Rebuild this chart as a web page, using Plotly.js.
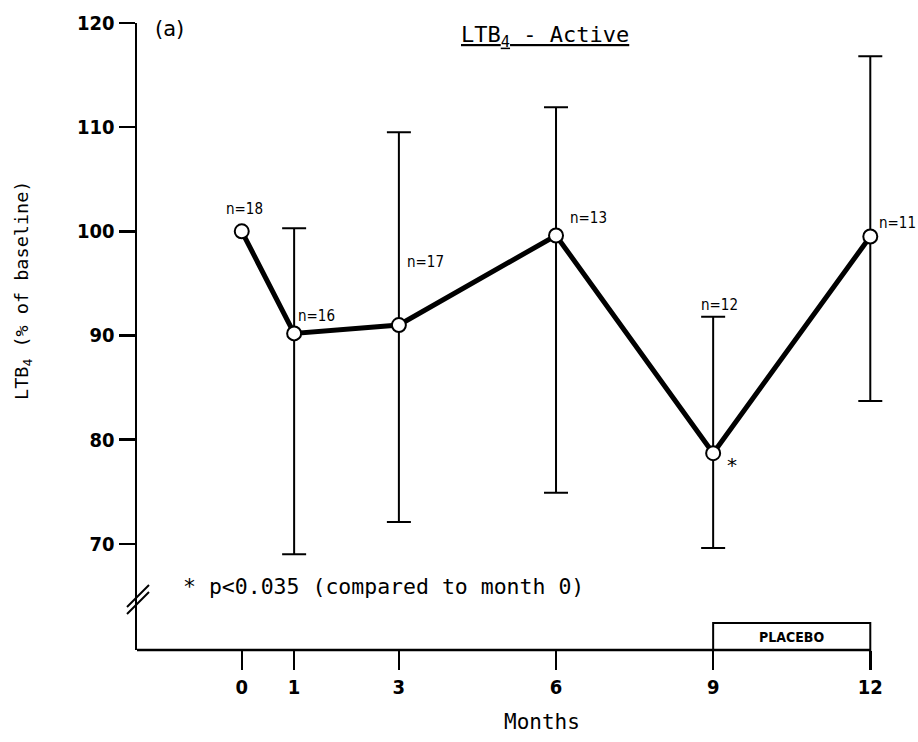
<!DOCTYPE html>
<html>
<head>
<meta charset="utf-8">
<script src="https://cdn.plot.ly/plotly-3.0.1.min.js"></script>
<style>html,body{margin:0;padding:0;background:#fff;}#chart{width:918px;height:742px;}</style>
</head>
<body>
<div id="chart"></div>
<script>
// ---- data ----
const months = [0, 1, 3, 6, 9, 12];
const meanPct = [100, 90.2, 91.0, 99.6, 78.7, 99.5];
const upperPct = [null, 100.3, 109.5, 111.9, 91.8, 116.8];
const lowerPct = [null, 69.0, 72.1, 74.9, 69.6, 83.7];
const nLabels = ['n=18', 'n=16', 'n=17', 'n=13', 'n=12', 'n=11'];
const xTickVals = [0, 1, 3, 6, 9, 12];
const yTickVals = [70, 80, 90, 100, 110, 120];
const significantMonth = 9;
const placeboMonths = [9, 12];

const errPlus = meanPct.map((m, i) => upperPct[i] == null ? NaN : upperPct[i] - m);
const errMinus = meanPct.map((m, i) => lowerPct[i] == null ? NaN : m - lowerPct[i]);

const MONO = '"DejaVu Sans Mono", "Liberation Mono", monospace';
const COND = '"DejaVu Sans Condensed", "DejaVu Sans", sans-serif';

// plot-area geometry (pixels)
const M = {l: 137, r: 32.3, t: 23, b: 92};
const PW = 918 - M.l - M.r, PH = 742 - M.t - M.b;
const px = v => (v - M.l) / PW;          // pixel x -> paper x
const py = v => (742 - M.b - v) / PH;    // pixel y -> paper y

const trace = {
  x: months, y: meanPct, type: 'scatter', mode: 'lines+markers',
  line: {color: '#000', width: 5},
  marker: {symbol: 'circle', size: 14, color: '#fff', line: {color: '#000', width: 2}},
  error_y: {type: 'data', symmetric: false, array: errPlus, arrayminus: errMinus,
            color: '#000', thickness: 2, width: 12},
  cliponaxis: false, showlegend: false, hoverinfo: 'x+y'
};

// offsets of n labels relative to their points (pixels)
const nOffsets = [[3, 22], [22, 17], [27, 63], [32, 17], [6, 148], [27, 14]];
const annotations = months.map((m, i) => ({
  x: m, y: meanPct[i], xref: 'x', yref: 'y', text: nLabels[i], showarrow: false,
  xshift: nOffsets[i][0], yshift: nOffsets[i][1],
  font: {family: COND, size: 15, color: '#000'}
}));

const sigIdx = months.indexOf(significantMonth);
annotations.push({x: months[sigIdx], y: meanPct[sigIdx], xref: 'x', yref: 'y', text: '*',
  showarrow: false, xshift: 19, yshift: -12, font: {family: MONO, size: 20, color: '#000'}});

annotations.push(
  {xref: 'paper', yref: 'paper', x: px(545), y: py(36), text: 'LTB<sub>4</sub> - Active',
   showarrow: false, xanchor: 'center', yanchor: 'middle',
   font: {family: MONO, size: 22, color: '#000', lineposition: 'under'}},
  {xref: 'paper', yref: 'paper', x: px(169), y: py(29), text: '(a)', showarrow: false,
   xanchor: 'center', yanchor: 'middle', font: {family: '"DejaVu Sans", sans-serif', size: 21, color: '#000'}},
  {xref: 'paper', yref: 'paper', x: px(181), y: py(586), text: '* p<0.035 (compared to month 0)',
   showarrow: false, xanchor: 'left', yanchor: 'middle', font: {family: MONO, size: 21.5, color: '#000'}},
  {xref: 'paper', yref: 'paper', x: px(542), y: py(722), text: 'Months', showarrow: false,
   xanchor: 'center', yanchor: 'middle', font: {family: MONO, size: 21, color: '#000'}},
  {xref: 'paper', yref: 'paper', x: px(23), y: py(290), text: 'LTB<sub>4</sub> (% of baseline)',
   textangle: -90, showarrow: false, xanchor: 'center', yanchor: 'middle',
   font: {family: MONO, size: 18.5, color: '#000'}},
  {xref: 'x', yref: 'paper', x: (placeboMonths[0] + placeboMonths[1]) / 2, y: py(637), text: 'PLACEBO',
   showarrow: false, xanchor: 'center', yanchor: 'middle',
   font: {family: COND, size: 14, color: '#000', weight: 'bold'}}
);

const shapes = [
  // x axis line, ending at month 12
  {type: 'line', xref: 'x', yref: 'paper', x0: -2, x1: 12, y0: 0, y1: 0, line: {color: '#000', width: 2.5}},
  // placebo box
  {type: 'rect', xref: 'x', yref: 'paper', x0: placeboMonths[0], x1: placeboMonths[1], y0: 0, y1: py(623),
   line: {color: '#000', width: 2}, fillcolor: 'rgba(0,0,0,0)'},
  // axis break marks
  {type: 'line', xref: 'paper', yref: 'paper', x0: px(127), y0: py(607), x1: px(149), y1: py(585), line: {color: '#000', width: 2}},
  {type: 'line', xref: 'paper', yref: 'paper', x0: px(127), y0: py(614), x1: px(149), y1: py(592), line: {color: '#000', width: 2}}
];

const layout = {
  width: 918, height: 742,
  margin: M,
  paper_bgcolor: '#fff', plot_bgcolor: '#fff',
  showlegend: false,
  xaxis: {range: [-2, 12.3], tickvals: xTickVals, ticktext: xTickVals.map(String),
          showline: false, ticks: 'outside', ticklen: 19,
          tickwidth: 2.5, tickcolor: '#000', showgrid: false, zeroline: false,
          tickfont: {family: COND, size: 20, color: '#000', weight: 'bold'}, automargin: false, fixedrange: true},
  yaxis: {range: [59.8, 120], tickvals: yTickVals, ticktext: yTickVals.map(String),
          showline: true, linecolor: '#000', linewidth: 2.5, ticks: 'outside', ticklen: 16,
          tickwidth: 2.5, tickcolor: '#000', showgrid: false, zeroline: false,
          ticklabelstandoff: 0,
          tickfont: {family: COND, size: 20, color: '#000', weight: 'bold'}, automargin: false, fixedrange: true},
  annotations: annotations,
  shapes: shapes
};

Plotly.newPlot('chart', [trace], layout, {displayModeBar: false, staticPlot: true});
</script>
</body>
</html>
